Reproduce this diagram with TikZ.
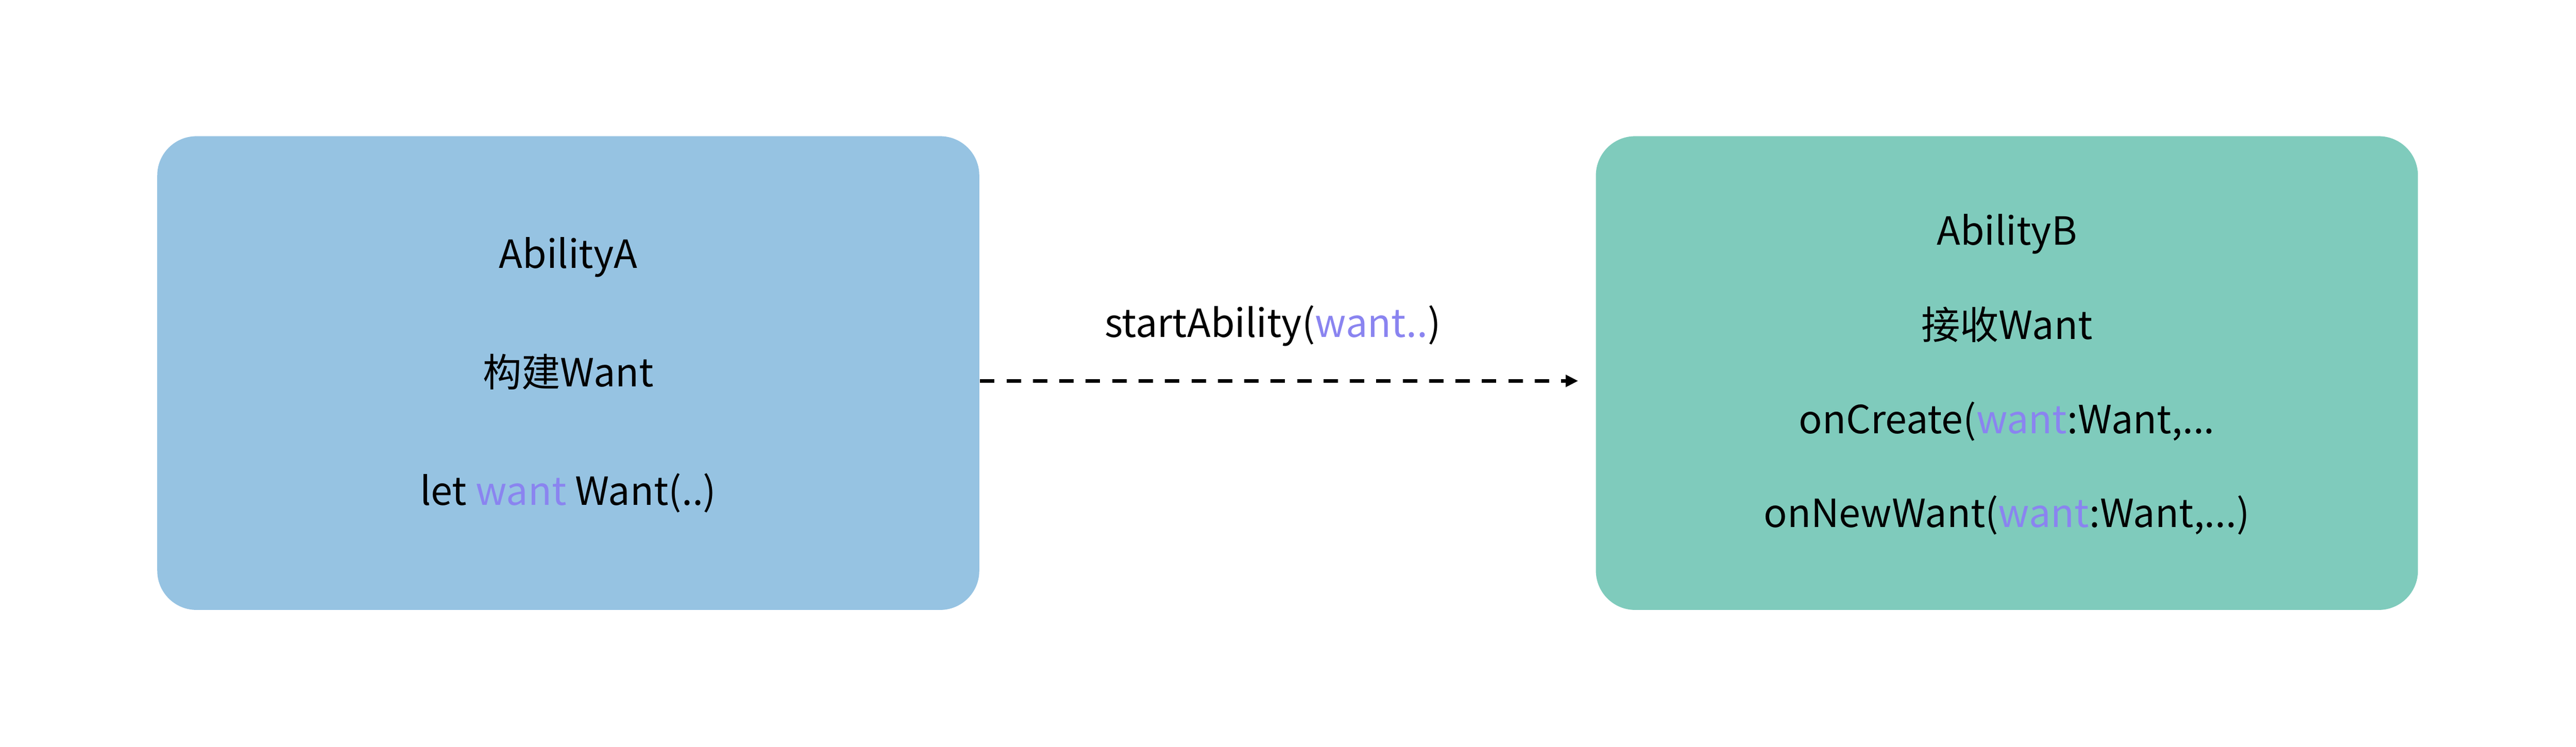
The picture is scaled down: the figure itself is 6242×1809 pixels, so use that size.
\documentclass[tikz,border=0pt]{standalone}
\usepackage{fontspec}
\setmainfont{Noto Sans CJK SC}
\usetikzlibrary{arrows.meta,calc}
\definecolor{boxA}{RGB}{150,195,226}
\definecolor{boxB}{RGB}{127,203,188}
\definecolor{wantc}{RGB}{138,132,240}
\newcommand{\wv}[1]{\textcolor{wantc}{#1}}
\begin{document}
\begin{tikzpicture}[x=0.1pt,y=-0.1pt,
  ability/.style={rounded corners=9.5pt,minimum width=199.2pt,minimum height=114.8pt,inner sep=0pt,draw=none},
  txt/.style={anchor=base,inner sep=0pt,font=\fontsize{9.4pt}{11pt}\selectfont},
  flow/.style={line width=0.8pt,dash pattern=on 3.5pt off 2.9pt,-{Triangle[length=3pt,width=2.8pt]}}]
\useasboundingbox (0,0) rectangle (6242,1809);
\node[ability,fill=boxA] (A) at (1377,904) {};
\node[ability,fill=boxB] (B) at (4863,904) {};
\node[txt] (a1) at (1377,650) {AbilityA};
\node[txt] (a2) at (1377,937) {构建Want};
\node[txt] (a3) at (1377,1224) {let \wv{want} Want(..)};
\node[txt] (b1) at (4863,594) {AbilityB};
\node[txt] (b2) at (4863,822) {接收Want};
\node[txt] (b3) at (4863,1050) {onCreate(\wv{want}:Want,...};
\node[txt] (b4) at (4863,1278) {onNewWant(\wv{want}:Want,...)};
\coordinate (s) at ($(A.east)+(0,19)$);
\coordinate (e) at ($(B.west)+(-41,19)$);
\draw[flow] (s) -- (e);
\node[txt] (lbl) at (3084,817) {startAbility(\wv{want..})};
\end{tikzpicture}
\end{document}
